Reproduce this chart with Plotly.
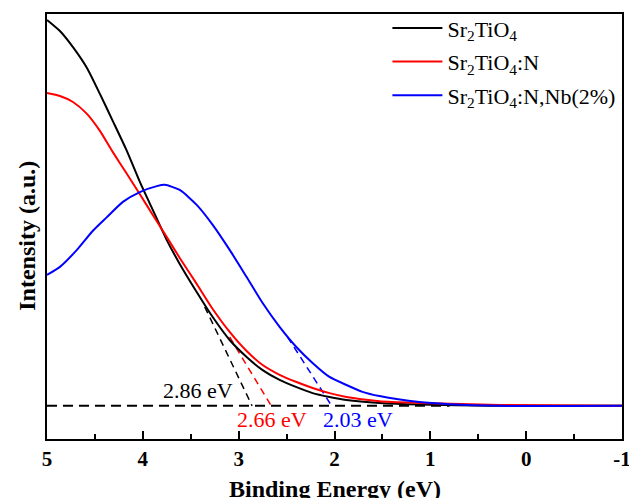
import plotly.graph_objects as go

# curves (binding energy in eV, intensity in a.u.)
energy_sto = [5.0, 4.865, 4.729, 4.583, 4.448, 4.313, 4.167, 4.031, 3.896, 3.75, 3.615, 3.438,
              3.271, 3.094, 2.917, 2.75, 2.573, 2.396, 2.229, 2.052, 1.875, 1.531, 1.115, 0.385, -1.0]
intensity_sto = [98.6, 96.0, 92.2, 87.3, 81.2, 74.8, 67.8, 60.5, 53.9, 46.8, 41.2, 34.6,
                 28.7, 23.3, 19.3, 16.2, 13.9, 12.2, 10.8, 9.9, 9.2, 8.5, 8.1, 7.8, 7.8]

energy_n = [5.0, 4.865, 4.729, 4.583, 4.448, 4.313, 4.167, 4.031, 3.896, 3.75, 3.615, 3.438,
            3.271, 3.094, 2.917, 2.75, 2.573, 2.396, 2.229, 2.052, 1.875, 1.531, 1.115, 0.281, -1.0]
intensity_n = [81.4, 80.7, 79.3, 76.5, 72.5, 67.5, 62.4, 57.6, 52.7, 47.5, 42.6, 36.5,
               30.6, 25.2, 20.7, 17.4, 15.1, 13.4, 12.0, 10.8, 9.9, 8.9, 8.5, 8.0, 7.8]

energy_nnb = [5.0, 4.865, 4.688, 4.521, 4.375, 4.208, 4.031, 3.854, 3.771, 3.615, 3.438, 3.271,
              3.094, 2.917, 2.75, 2.573, 2.396, 2.229, 2.052, 1.875, 1.708, 1.531, 1.115, 0.802,
              0.281, -1.0]
intensity_nnb = [38.6, 40.5, 44.5, 49.0, 52.2, 55.8, 58.1, 59.5, 59.8, 58.6, 55.1, 50.4,
                 44.5, 38.1, 32.0, 26.4, 21.6, 17.9, 14.6, 12.7, 11.1, 10.1, 8.7, 8.2,
                 7.8, 7.8]

# tangent lines and baseline
tangent_sto_x = [3.354, 2.86]
tangent_sto_y = [31.1, 7.8]
tangent_n_x = [3.094, 2.66]
tangent_n_y = [24.0, 7.8]
tangent_nnb_x = [2.49, 2.03]
tangent_nnb_y = [24.0, 7.8]
baseline_x = [5.0, 0.8]
baseline_y = [7.8, 7.8]

gap_labels = ['2.86 eV', '2.66 eV', '2.03 eV']

font_family = 'Liberation Serif, Times New Roman, serif'

fig = go.Figure()

fig.add_trace(go.Scatter(x=baseline_x, y=baseline_y, mode='lines', showlegend=False,
                         line=dict(color='black', width=2, dash='10px,6px')))
fig.add_trace(go.Scatter(x=tangent_sto_x, y=tangent_sto_y, mode='lines', showlegend=False,
                         line=dict(color='black', width=1.5, dash='7px,5px')))
fig.add_trace(go.Scatter(x=tangent_n_x, y=tangent_n_y, mode='lines', showlegend=False,
                         line=dict(color='red', width=1.5, dash='7px,5px')))
fig.add_trace(go.Scatter(x=tangent_nnb_x, y=tangent_nnb_y, mode='lines', showlegend=False,
                         line=dict(color='blue', width=1.5, dash='7px,5px')))

fig.add_trace(go.Scatter(x=energy_sto, y=intensity_sto, mode='lines', legendgroup='a',
                         line_shape='spline', line_smoothing=0.6,
                         name='Sr<sub>2</sub>TiO<sub>4</sub>',
                         line=dict(color='black', width=2)))
fig.add_trace(go.Scatter(x=energy_n, y=intensity_n, mode='lines', legendgroup='b',
                         line_shape='spline', line_smoothing=0.6,
                         name='Sr<sub>2</sub>TiO<sub>4</sub>:N',
                         line=dict(color='red', width=2)))
fig.add_trace(go.Scatter(x=energy_nnb, y=intensity_nnb, mode='lines', legendgroup='c',
                         line_shape='spline', line_smoothing=0.6,
                         name='Sr<sub>2</sub>TiO<sub>4</sub>:N,Nb(2%)',
                         line=dict(color='blue', width=2)))

fig.add_annotation(x=3.427, y=11.5, text=gap_labels[0], showarrow=False,
                   font=dict(color='black', size=22, family=font_family))
fig.add_annotation(x=2.656, y=4.6, text=gap_labels[1], showarrow=False,
                   font=dict(color='red', size=22, family=font_family))
fig.add_annotation(x=1.76, y=4.6, text=gap_labels[2], showarrow=False,
                   font=dict(color='blue', size=22, family=font_family))

# axis titles
fig.add_annotation(xref='paper', yref='paper', x=0.5, y=-0.118, xanchor='center', yanchor='middle',
                   text='<b>Binding Energy (eV)</b>',
                   showarrow=False, font=dict(size=24, family=font_family))
fig.add_annotation(xref='paper', yref='paper', x=-0.035, y=0.478, xanchor='center', yanchor='middle',
                   text='<b>Intensity (a.u.)</b>',
                   textangle=-90, showarrow=False, font=dict(size=24, family=font_family))

fig.update_layout(
    width=629,
    height=498,
    margin=dict(l=47, r=7, t=14, b=59, autoexpand=False),
    plot_bgcolor='white',
    paper_bgcolor='white',
    font=dict(family=font_family, color='black'),
    legend=dict(x=0.592, y=1.016, xanchor='left', yanchor='top',
                bgcolor='rgba(0,0,0,0)', font=dict(size=22, family=font_family),
                itemwidth=50, tracegroupgap=2),
    xaxis=dict(
        range=[5, -1],
        tickvals=[5, 4, 3, 2, 1, 0, -1],
        ticktext=['<b>5</b>', '<b>4</b>', '<b>3</b>', '<b>2</b>', '<b>1</b>', '<b>0</b>', '<b>-1</b>'],
        ticklabeloverflow='allow',
        ticks='inside', ticklen=8, tickwidth=1.5, tickcolor='black',
        minor=dict(ticks='inside', dtick=0.5, ticklen=5, tickwidth=1.5, tickcolor='black'),
        tickfont=dict(size=21, family=font_family),
        showline=True, linecolor='black', linewidth=1.5, mirror=True,
        showgrid=False, zeroline=False, automargin=False,
    ),
    yaxis=dict(
        range=[0, 100],
        showticklabels=False, ticks='',
        showline=True, linecolor='black', linewidth=1.5, mirror=True,
        showgrid=False, zeroline=False, automargin=False,
    ),
)

# the page body has an 8px default margin; drop it so the figure fills the window
fig.write_html("out.html", config={'displayModeBar': False},
               post_script="document.body.style.margin = '0'; document.body.style.overflow = 'hidden';")
